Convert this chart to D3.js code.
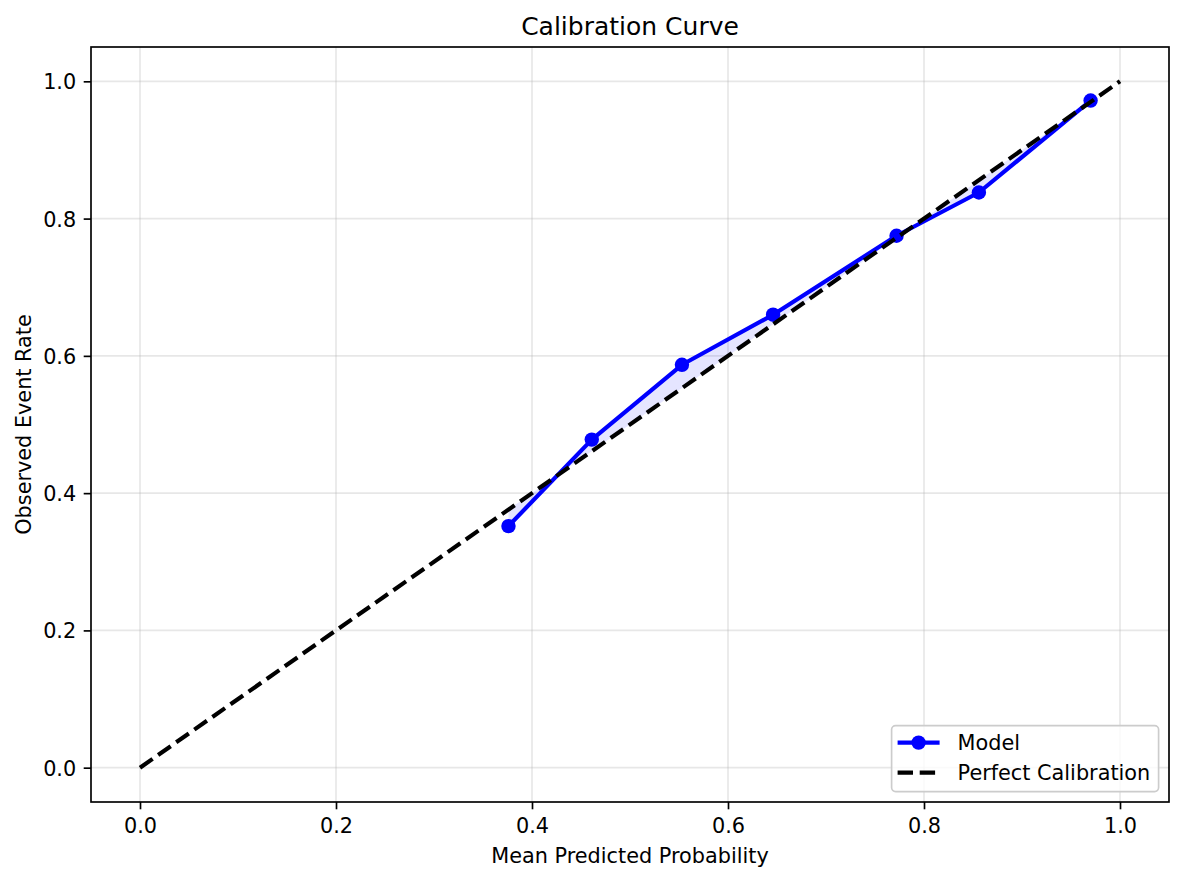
<!DOCTYPE html>
<html>
<head>
<meta charset="utf-8">
<script src="https://cdn.jsdelivr.net/npm/d3@7"></script>
<style>
  body { margin: 0; background: #fff; }
  svg { display: block; font-family: "DejaVu Sans", sans-serif; }
</style>
</head>
<body>
<div id="chart"></div>
<script>
// Calibration bins
const meanPredicted = [0.376, 0.461, 0.553, 0.646, 0.772, 0.856, 0.970];
const observedRate = [0.352, 0.478, 0.587, 0.660, 0.775, 0.838, 0.972];
const perfectLine = [0, 1];
const tickValues = [0, 0.2, 0.4, 0.6, 0.8, 1.0];
const legendLabels = ['Model', 'Perfect Calibration'];

const W = 1184, H = 881;
const margin = {top: 47, right: 15, bottom: 79, left: 91};
const width = W - margin.left - margin.right;
const height = H - margin.top - margin.bottom;

const svg = d3.select('#chart').append('svg')
    .attr('width', W)
    .attr('height', H);

const g = svg.append('g')
    .attr('transform', `translate(${margin.left},${margin.top})`);

const x = d3.scaleLinear().domain([-0.05, 1.05]).range([0, width]);
const y = d3.scaleLinear().domain([-0.05, 1.05]).range([height, 0]);

// grid
g.append('g')
    .selectAll('line.gx')
    .data(tickValues)
    .join('line')
    .attr('x1', d => x(d)).attr('x2', d => x(d))
    .attr('y1', 0).attr('y2', height)
    .attr('stroke', '#b0b0b0').attr('stroke-opacity', 0.3).attr('stroke-width', 1.67);
g.append('g')
    .selectAll('line.gy')
    .data(tickValues)
    .join('line')
    .attr('y1', d => y(d)).attr('y2', d => y(d))
    .attr('x1', 0).attr('x2', width)
    .attr('stroke', '#b0b0b0').attr('stroke-opacity', 0.3).attr('stroke-width', 1.67);

const pts = meanPredicted.map((p, i) => ({p, o: observedRate[i]}));

// shaded gap between model and diagonal
const area = d3.area()
    .x(d => x(d.p))
    .y0(d => y(d.p))
    .y1(d => y(d.o));
g.append('path')
    .datum(pts)
    .attr('d', area)
    .attr('fill', '#0000ff')
    .attr('fill-opacity', 0.1);

// model line
const line = d3.line().x(d => x(d.p)).y(d => y(d.o));
g.append('path')
    .datum(pts)
    .attr('d', line)
    .attr('fill', 'none')
    .attr('stroke', '#0000ff')
    .attr('stroke-width', 4.17)
    .attr('stroke-linejoin', 'round');
g.selectAll('circle.pt')
    .data(pts)
    .join('circle')
    .attr('cx', d => x(d.p))
    .attr('cy', d => y(d.o))
    .attr('r', 7.2)
    .attr('fill', '#0000ff');

// perfect calibration diagonal
g.append('path')
    .datum(perfectLine)
    .attr('d', d3.line().x(d => x(d)).y(d => y(d)))
    .attr('fill', 'none')
    .attr('stroke', '#000')
    .attr('stroke-width', 4.17)
    .attr('stroke-dasharray', '15.4,6.7');

// axes
const xAxis = g.append('g')
    .attr('transform', `translate(0,${height})`)
    .call(d3.axisBottom(x).tickValues(tickValues).tickFormat(d3.format('.1f')).tickSize(7.3).tickPadding(9));
const yAxis = g.append('g')
    .call(d3.axisLeft(y).tickValues(tickValues).tickFormat(d3.format('.1f')).tickSize(7.3).tickPadding(7.5));
[xAxis, yAxis].forEach(a => {
    a.select('.domain').remove();
    a.selectAll('line').attr('stroke', '#000').attr('stroke-width', 1.67);
    a.selectAll('text').attr('fill', '#000').style('font-size', '20.8px').style('font-family', '"DejaVu Sans", sans-serif');
});
yAxis.selectAll('text').attr('dy', '0.36em');

// frame
g.append('rect')
    .attr('width', width).attr('height', height)
    .attr('fill', 'none').attr('stroke', '#000').attr('stroke-width', 1.67);

// labels
svg.append('text')
    .attr('x', margin.left + width / 2).attr('y', 35)
    .attr('text-anchor', 'middle')
    .style('font-size', '25px')
    .text('Calibration Curve');
svg.append('text')
    .attr('x', margin.left + width / 2).attr('y', 863)
    .attr('text-anchor', 'middle')
    .style('font-size', '20.8px')
    .text('Mean Predicted Probability');
svg.append('text')
    .attr('transform', `translate(31,${margin.top + height / 2}) rotate(-90)`)
    .attr('text-anchor', 'middle')
    .style('font-size', '20.8px')
    .text('Observed Event Rate');

// legend
const legend = g.append('g')
    .attr('transform', `translate(${width - 10.4 - 267},${height - 10.4 - 66})`);
legend.append('rect')
    .attr('width', 267).attr('height', 66)
    .attr('rx', 4).attr('ry', 4)
    .attr('fill', '#fff').attr('fill-opacity', 0.8)
    .attr('stroke', '#cccccc').attr('stroke-width', 1.67);

legendLabels.forEach((label, i) => {
    const ly = 17 + i * 30;
    const row = legend.append('g').attr('transform', `translate(0,${ly})`);
    row.append('line')
        .attr('x1', 6).attr('x2', 48)
        .attr('stroke', i === 0 ? '#0000ff' : '#000')
        .attr('stroke-width', 4.17)
        .attr('stroke-dasharray', i === 0 ? null : '15.4,6.7');
    if (i === 0) {
        row.append('circle').attr('cx', 27).attr('r', 7.2).attr('fill', '#0000ff');
    }
    row.append('text')
        .attr('x', 66).attr('y', 0)
        .attr('dy', '0.35em')
        .style('font-size', '20.8px')
        .text(label);
});
</script>
</body>
</html>
